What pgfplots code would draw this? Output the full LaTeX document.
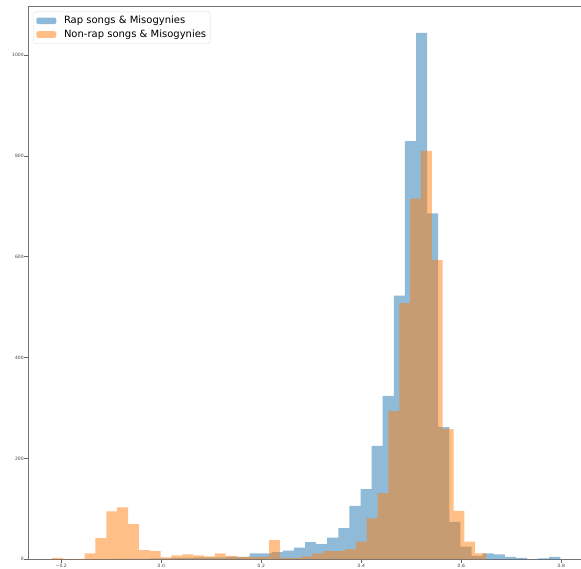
\documentclass[border=0pt]{standalone}
\usepackage{pgfplots}
\pgfplotsset{compat=1.18}
\usepackage{fontspec}
\setmainfont{DejaVu Sans}
\definecolor{tabblue}{HTML}{1F77B4}
\definecolor{taborange}{HTML}{FF7F0E}
\begin{document}
\begin{tikzpicture}
\begin{axis}[name=ax, scale only axis, width=553pt, height=552.8pt,
  xmin=-0.2666, xmax=0.8394, ymin=0, ymax=1096.2,
  axis x line*=box, axis y line*=left,
  xtick={-0.2,0,0.2,0.4,0.6,0.8},
  xticklabels={−0.2,0.0,0.2,0.4,0.6,0.8},
  ytick={0,200,400,600,800,1000},
  yticklabels={0,200,400,600,800,1000},
  tick label style={font=\fontsize{4.5}{5}\selectfont, text=black!75},
  yticklabel style={inner sep=0.6pt},
  xticklabel style={inner sep=0.8pt},
  tick align=outside, major tick length=3.5pt,
  tick style={black!60, line width=0.5pt},
  xtick pos=bottom, ytick pos=left,
  axis line style={black!55, line width=0.6pt},
  legend style={at={(0.0096,0.9906)}, anchor=north west, draw=black!15,
    fill=white, fill opacity=0.8, text opacity=1, rounded corners=2pt,
    font=\fontsize{10}{12}\selectfont, inner xsep=2.8pt, inner ysep=3.2pt,
    row sep=2.2pt, nodes={inner sep=1.2pt},
    /tikz/every odd column/.append style={column sep=6.5pt}},
  legend cell align=left,
  legend image code/.code={\fill[#1] (0pt,-3.3pt) rectangle (20pt,3.3pt);},
]
\addplot[const plot, fill=tabblue, fill opacity=0.5, draw=none] coordinates {
(-0.0900,1) (-0.0678,1) (-0.0456,1) (-0.0234,2) (-0.0012,2) (0.0210,3) (0.0432,3) (0.0654,4) (0.0876,4) (0.1098,4) (0.1320,5) (0.1542,5) (0.1764,12) (0.1986,12) (0.2208,14) (0.2430,17) (0.2652,23) (0.2874,34) (0.3096,30) (0.3318,43) (0.3540,62) (0.3762,106) (0.3984,139) (0.4206,225) (0.4428,324) (0.4650,523) (0.4872,829) (0.5094,1044) (0.5316,686) (0.5538,262) (0.5760,74) (0.5982,25) (0.6204,7) (0.6426,12) (0.6648,10) (0.6870,5) (0.7092,3) (0.7314,0) (0.7536,2) (0.7758,5) (0.7980,0)
} \closedcycle;
\addlegendentry{Rap songs \& Misogynies}
\addplot[const plot, fill=taborange, fill opacity=0.5, draw=none] coordinates {
(-0.2185,3) (-0.1968,0) (-0.1751,1) (-0.1534,12) (-0.1317,42) (-0.1100,95) (-0.0883,103) (-0.0666,70) (-0.0449,18) (-0.0232,16) (-0.0015,4) (0.0202,8) (0.0419,10) (0.0636,8) (0.0853,6) (0.1070,12) (0.1287,7) (0.1504,5) (0.1721,5) (0.1938,5) (0.2155,38) (0.2372,3) (0.2589,3) (0.2806,6) (0.3023,12) (0.3240,16) (0.3457,16) (0.3674,20) (0.3891,35) (0.4108,81) (0.4325,131) (0.4542,294) (0.4759,508) (0.4976,715) (0.5193,810) (0.5410,594) (0.5627,258) (0.5844,96) (0.6061,35) (0.6278,12) (0.6495,0)
} \closedcycle;
\addlegendentry{Non-rap songs \& Misogynies}
\end{axis}
\pgfresetboundingbox
\path[use as bounding box] ([shift={(-28pt,-8.7pt)}]ax.south west) rectangle ([shift={(0pt,6.5pt)}]ax.north east);
\end{tikzpicture}
\end{document}
